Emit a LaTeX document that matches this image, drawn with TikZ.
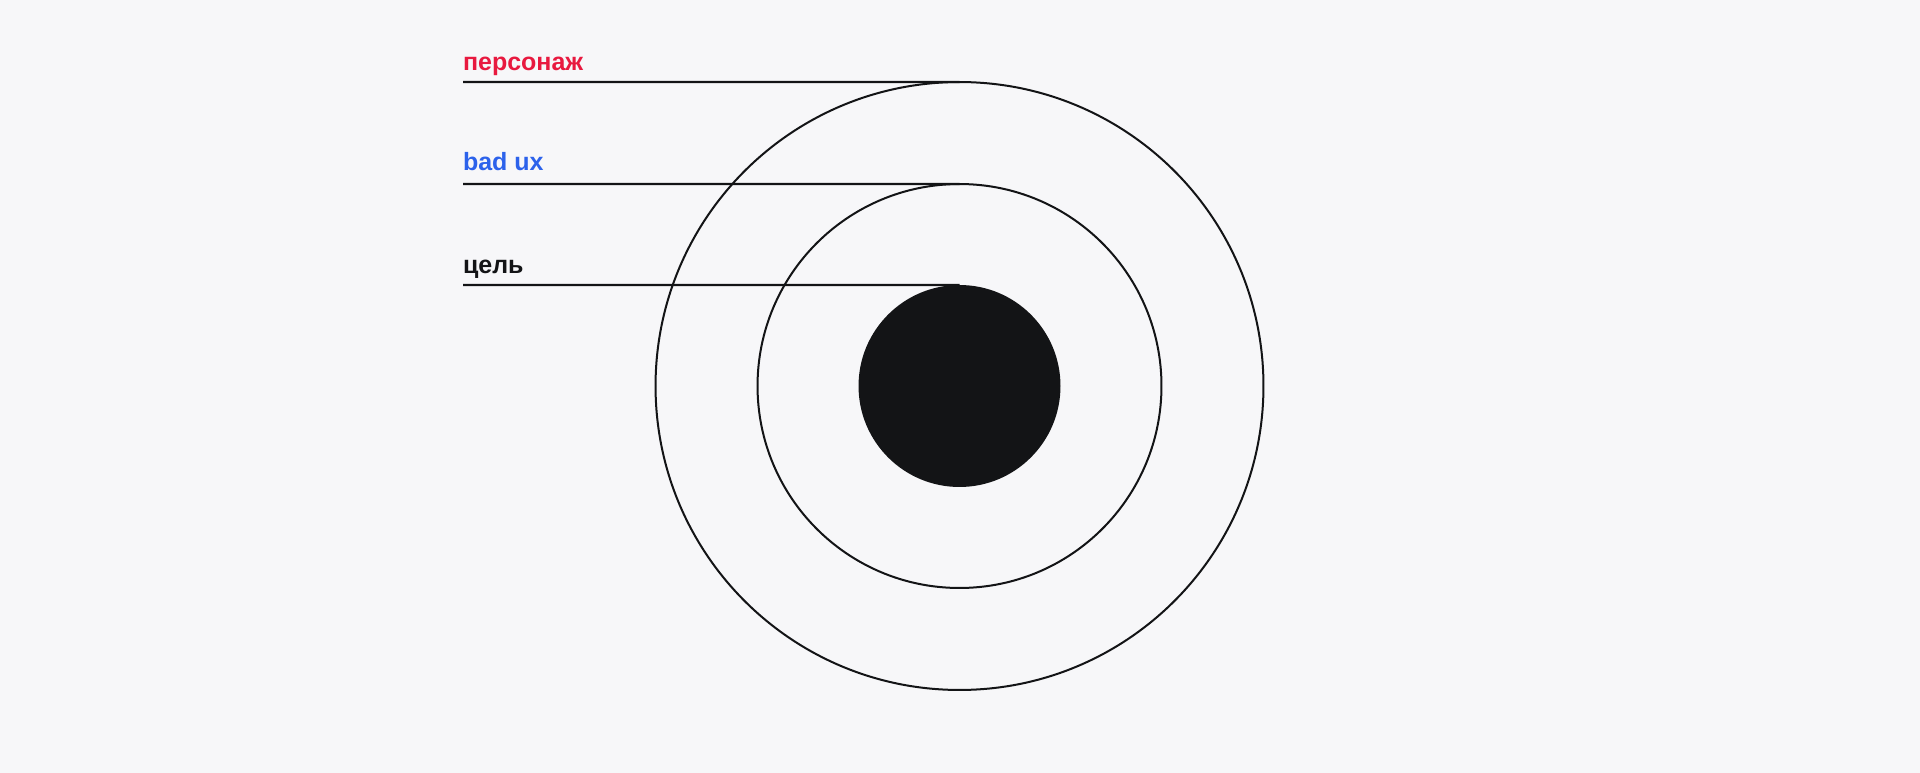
\documentclass[tikz,border=0pt]{standalone}
\usepackage{fontspec}
\setmainfont{Liberation Sans}
\usepackage{tikz}
\usetikzlibrary{positioning}

\definecolor{bgcol}{HTML}{F7F7F9}
\definecolor{inkcol}{HTML}{131416}
\definecolor{perscol}{HTML}{E8193F}
\definecolor{uxcol}{HTML}{2C62EB}

\begin{document}
\begin{tikzpicture}[scale=0.3515]
			\tikzstyle{every node}+=[inner sep=0pt, outer sep=0pt]
			\tikzstyle{ring}=[circle, draw=inkcol, line width=2pt]
			\tikzstyle{lbl}=[anchor=base west, font=\fontsize{25}{30}\selectfont\bfseries]
			\fill [bgcol] (0,0) rectangle (192,-77.3);
			\useasboundingbox (0,0) rectangle (192,-77.3);
			\node [ring, minimum size=608pt] (outer) at (95.95,-38.6) {};
			\node [ring, minimum size=404pt] (middle) at (95.95,-38.6) {};
			\node [circle, fill=inkcol, minimum size=202pt] (core) at (95.95,-38.6) {};
			\coordinate (s1) at (46.3,-8.2);
			\coordinate (s2) at (46.3,-18.4);
			\coordinate (s3) at (46.3,-28.5);
			\draw [inkcol, line width=2.2pt] (s1) -- (outer.north);
			\draw [inkcol, line width=2.2pt] (s2) -- (middle.north);
			\draw [inkcol, line width=2.2pt] (s3) -- (core.north);
			\node [lbl, text=perscol] (pers) at (46.3,-7.1) {персонаж};
			\node [lbl, text=uxcol] (badux) at (46.3,-17.1) {bad ux};
			\node [lbl, text=inkcol] (goal) at (46.3,-27.3) {цель};
\end{tikzpicture}
\end{document}
